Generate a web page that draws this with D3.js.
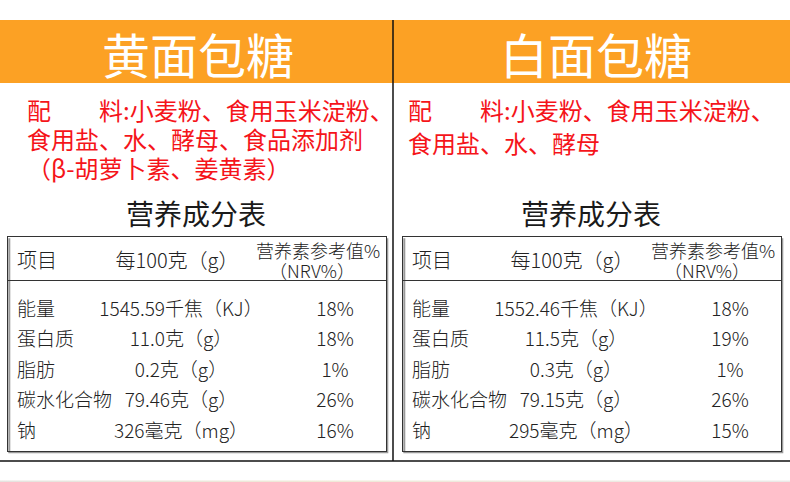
<!DOCTYPE html>
<html>
<head>
<meta charset="utf-8">
<script src="https://cdn.jsdelivr.net/npm/d3@7"></script>
<style>
  body { margin: 0; background: #fff; }
  text { font-family: "Noto Sans CJK SC", "Noto Sans", sans-serif; }
</style>
</head>
<body>
<div id="chart"></div>
<script>
// panels
const panels = ["黄面包糖", "白面包糖"];
const ingredients = [
    ["配　　料:小麦粉、食用玉米淀粉、", "食用盐、水、酵母、食品添加剂", "（β-胡萝卜素、姜黄素）"],
    ["配　　料:小麦粉、食用玉米淀粉、", "食用盐、水、酵母"]
];
const tableTitle = "营养成分表";
const headers = ["项目", "每100克（g）", "营养素参考值%", "（NRV%）"];

// table rows
const items = ["能量", "蛋白质", "脂肪", "碳水化合物", "钠"];
const amountsYellow = ["1545.59千焦（KJ）", "11.0克（g）", "0.2克（g）", "79.46克（g）", "326毫克（mg）"];
const nrvYellow = ["18%", "18%", "1%", "26%", "16%"];
const amountsWhite = ["1552.46千焦（KJ）", "11.5克（g）", "0.3克（g）", "79.15克（g）", "295毫克（mg）"];
const nrvWhite = ["18%", "19%", "1%", "26%", "15%"];

const amounts = [amountsYellow, amountsWhite];
const nrvs = [nrvYellow, nrvWhite];

const width = 790, height = 482;

const svg = d3.select("#chart")
    .append("svg")
    .attr("width", width)
    .attr("height", height);

// panel offsets
const px = d3.scaleOrdinal().domain(panels).range([0, 395]);
const titleX = d3.scaleOrdinal().domain(panels).range([198, 596]);
const ingrX = d3.scaleOrdinal().domain(panels).range([27, 408]);
const ingrStep = d3.scaleOrdinal().domain(panels).range([29.3, 33]);
// row positions inside the table
const y = d3.scalePoint().domain(items).range([307, 429]);
// column x positions
const col = d3.scaleOrdinal().domain(["item", "amount", "nrv"]).range([17, 181, 335]);

// orange band
svg.append("rect")
    .attr("x", 0).attr("y", 20)
    .attr("width", width).attr("height", 63)
    .attr("fill", "#fca124");

// divider and bottom line
svg.append("line")
    .attr("x1", 393).attr("x2", 393)
    .attr("y1", 20).attr("y2", 461)
    .attr("stroke", "#111").attr("stroke-width", 1.5);
svg.append("line")
    .attr("x1", 0).attr("x2", width)
    .attr("y1", 461).attr("y2", 461)
    .attr("stroke", "#111").attr("stroke-width", 1.5);

// faint strip at the bottom edge
const grad = svg.append("defs").append("linearGradient").attr("id", "strip");
grad.append("stop").attr("offset", "0%").attr("stop-color", "#e6e4e0");
grad.append("stop").attr("offset", "40%").attr("stop-color", "#f0ead8");
grad.append("stop").attr("offset", "100%").attr("stop-color", "#ebeae8");
svg.append("rect")
    .attr("x", 0).attr("y", 480.5)
    .attr("width", width).attr("height", 1.5)
    .attr("fill", "url(#strip)");

panels.forEach(function (name, i) {
    const g = svg.append("g")
        .attr("transform", `translate(${px(name)}, 0)`);

    // big title
    svg.append("text")
        .attr("x", titleX(name))
        .attr("y", 52.5)
        .attr("text-anchor", "middle")
        .attr("dominant-baseline", "central")
        .attr("font-size", 48)
        .attr("fill", "#fff")
        .text(name);

    // ingredients
    svg.selectAll(".ingr" + i)
        .data(ingredients[i])
        .enter()
        .append("text")
        .attr("class", "ingr" + i)
        .attr("x", ingrX(name))
        .attr("y", function (d, j) { return 109 + j * ingrStep(name); })
        .attr("dominant-baseline", "central")
        .attr("font-size", 24)
        .attr("fill", "#f5141a")
        .text(function (d) { return d; });

    g.append("text")
        .attr("x", 196)
        .attr("y", 212.5)
        .attr("text-anchor", "middle")
        .attr("dominant-baseline", "central")
        .attr("font-size", 28)
        .attr("fill", "#1a1a1a")
        .text(tableTitle);

    // table box
    g.append("path")
        .attr("d", "M8.5,237.5 V451.5 H386.5 V237.5")
        .attr("fill", "none")
        .attr("stroke", "#999").attr("stroke-width", 2)
        .attr("transform", "translate(0.8,0.8)");
    g.append("rect")
        .attr("x", 7.5).attr("y", 236.5)
        .attr("width", 379).attr("height", 215)
        .attr("fill", "none")
        .attr("stroke", "#333").attr("stroke-width", 1);
    g.append("line")
        .attr("x1", 7.5).attr("x2", 386.5)
        .attr("y1", 280.5).attr("y2", 280.5)
        .attr("stroke", "#333").attr("stroke-width", 1);

    // header
    g.append("text")
        .attr("x", col("item")).attr("y", 259)
        .attr("dominant-baseline", "central")
        .attr("font-size", 20).attr("fill", "#222")
        .attr("font-weight", 300)
        .text(headers[0]);
    g.append("text")
        .attr("x", col("amount") - 4).attr("y", 259)
        .attr("text-anchor", "middle")
        .attr("dominant-baseline", "central")
        .attr("font-size", 20).attr("fill", "#222")
        .attr("font-weight", 300)
        .text(headers[1]);
    g.append("text")
        .attr("x", 318).attr("y", 249.5)
        .attr("text-anchor", "middle")
        .attr("dominant-baseline", "central")
        .attr("font-size", 18).attr("fill", "#222")
        .attr("font-weight", 300)
        .text(headers[2]);
    g.append("text")
        .attr("x", 312).attr("y", 270)
        .attr("text-anchor", "middle")
        .attr("dominant-baseline", "central")
        .attr("font-size", 18).attr("fill", "#222")
        .attr("font-weight", 300)
        .text(headers[3]);

    // rows
    const rows = g.selectAll(".row")
        .data(items)
        .enter()
        .append("g")
        .attr("class", "row")
        .attr("transform", function (d) { return `translate(0, ${y(d)})`; });

    rows.append("text")
        .attr("x", col("item"))
        .attr("dominant-baseline", "central")
        .attr("font-size", 19).attr("fill", "#222")
        .attr("font-weight", 300)
        .text(function (d) { return d; });
    rows.append("text")
        .attr("x", col("amount"))
        .attr("text-anchor", "middle")
        .attr("dominant-baseline", "central")
        .attr("font-size", 19).attr("fill", "#222")
        .attr("font-weight", 300)
        .text(function (d, j) { return amounts[i][j]; });
    rows.append("text")
        .attr("x", col("nrv"))
        .attr("text-anchor", "middle")
        .attr("dominant-baseline", "central")
        .attr("font-size", 19).attr("fill", "#222")
        .attr("font-weight", 300)
        .text(function (d, j) { return nrvs[i][j]; });
});
</script>
</body>
</html>
